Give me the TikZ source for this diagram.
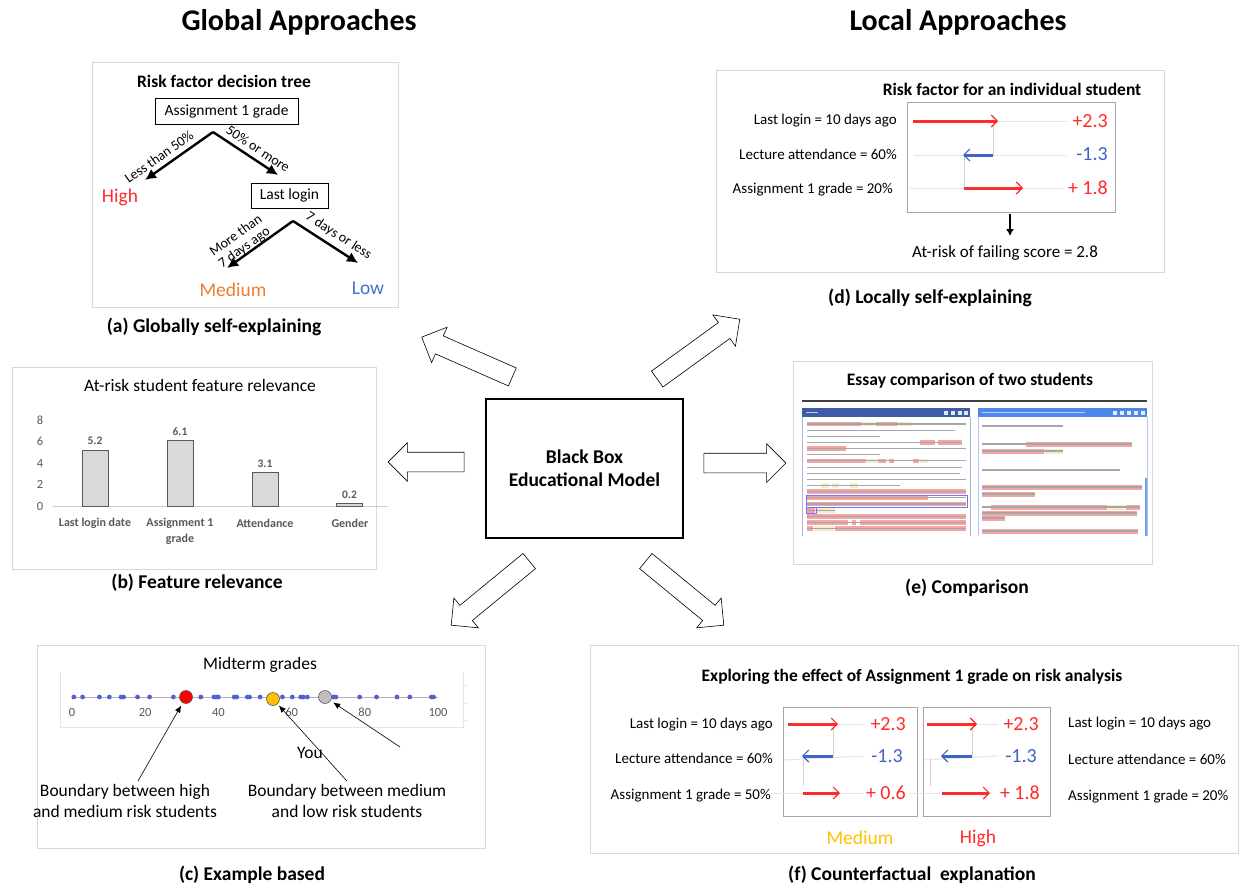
\documentclass[tikz,border=0pt]{standalone}
\usepackage{fontspec}
\setmainfont{Carlito}
\usepackage{tikz}
\usetikzlibrary{shapes,arrows,arrows.meta,positioning,calc}

\definecolor{paneline}{HTML}{D9D9D9}
\definecolor{xred}{HTML}{FF2A2A}
\definecolor{xblue}{HTML}{3F63C8}
\definecolor{lowblue}{HTML}{4472C4}
\definecolor{xorange}{HTML}{ED7D31}
\definecolor{xgold}{HTML}{FFC000}
\definecolor{dotblue}{HTML}{5360D0}
\definecolor{hlred}{HTML}{F4A6A6}
\definecolor{hlyel}{HTML}{F5ECC6}
\definecolor{hdrdark}{HTML}{3D5BA6}
\definecolor{hdrlight}{HTML}{4F86EC}
\definecolor{axisgray}{HTML}{595959}

\begin{document}
\begin{tikzpicture}[x=1pt, y=-1pt, >=latex,
  panel/.style={draw=paneline, line width=1pt},
  heading/.style={font=\fontsize{30}{36}\selectfont\bfseries},
  caption/.style={font=\fontsize{19.5}{23}\selectfont\bfseries},
  subtitle/.style={font=\fontsize{17.5}{21}\selectfont\bfseries},
  lbl/.style={font=\fontsize{15}{18}\selectfont, inner sep=0pt},
  val/.style={font=\fontsize{20}{24}\selectfont, inner sep=0pt},
  risk/.style={font=\fontsize{19.5}{23}\selectfont},
  treebox/.style={draw, line width=0.8pt, font=\fontsize{15.5}{18}\selectfont, inner sep=0pt},
  treearrow/.style={-{Latex[length=11pt,width=11pt]}, line width=2.4pt},
  branch/.style={font=\fontsize{14}{14.5}\selectfont, sloped, inner sep=1pt, align=center},
  bigarrow/.style={single arrow, draw, fill=white, line width=0.6pt, inner xsep=0pt,
    inner ysep=9.5pt, single arrow head extend=9.5pt},
  bar/.style={draw=axisgray, fill=gray!30, line width=0.8pt},
  pointer/.style={-{Latex[length=7pt,width=6pt]}, line width=0.6pt},
  frame/.style={draw=gray!70, line width=0.9pt},
  track/.style={draw=gray!20, line width=1pt},
  link/.style={draw=gray!35, line width=0.8pt},
  upbar/.style={-{Straight Barb[length=6pt,width=12pt,line width=1.2pt]}, xred, line width=3pt},
  downbar/.style={-{Straight Barb[length=6pt,width=12pt,line width=1.2pt]}, xblue, line width=3pt},
  txt/.style={draw=gray!70, line width=1.1pt},
  hl/.style={fill=hlred},
  hly/.style={fill=hlyel}]

\useasboundingbox (0,0) rectangle (1246,887);

\node[heading] (global) at (299,22) {Global Approaches};
\node[heading] (local) at (958,22) {Local Approaches};

\node[draw, line width=1.6pt, minimum width=197, minimum height=139, align=center,
  font=\fontsize{19.5}{23}\selectfont\bfseries] (model) at (584.5,468.5) {Black Box\\Educational Model};
\node[bigarrow, minimum height=99, rotate=156.3] (toA) at (471.5,359) {};
\node[bigarrow, minimum height=76, rotate=180] (toB) at (431,462) {};
\node[bigarrow, minimum height=101, rotate=219.4] (toC) at (494,590) {};
\node[bigarrow, minimum height=102, rotate=35.9] (toD) at (694.5,352) {};
\node[bigarrow, minimum height=82] (toE) at (740,463) {};
\node[bigarrow, minimum height=101, rotate=-39.4] (toF) at (681,590) {};

\draw[panel] (92,62) rectangle (398,307);
\node[subtitle] (treetitle) at (224,81) {Risk factor decision tree};
\node[treebox, minimum width=143, minimum height=26] (q1) at (226.5,111) {Assignment 1 grade};
\node[treebox, minimum width=77, minimum height=25] (q2) at (289.5,195.5) {Last login};
\node[risk, text=xred] (high) at (120,197) {High};
\node[risk, text=xorange] (medium) at (233,290) {Medium};
\node[risk, text=lowblue] (low) at (368,288) {Low};
\coordinate (fork1) at (213,132);
\coordinate (fork2) at (293,221);
\coordinate (tipH) at (145,180);
\coordinate (tipQ) at (278,175);
\coordinate (tipM) at (227,268);
\coordinate (tipL) at (358,263);
\draw[treearrow] (fork1) -- (tipH) node[branch, pos=0.7, above=4pt] {Less than 50\%};
\draw[treearrow] (fork1) -- (tipQ) node[branch, pos=0.6, above=4pt] {50\% or more};
\draw[treearrow] (fork2) -- (tipM) node[branch, pos=0.68, above=-2pt] {More than\\7 days ago};
\draw[treearrow] (fork2) -- (tipL) node[branch, pos=0.6, above=4pt] {7 days or less};
\node[caption] (capA) at (214,327) {(a) Globally self-explaining};

\draw[panel] (12,367) rectangle (376,569);
\node[font=\fontsize{17.5}{21}\selectfont] (bartitle) at (200,385) {At-risk student feature relevance};
\draw[gray!40, line width=0.8pt] (53,506) -- (388,506);
\foreach \v in {0,2,4,6,8}
  \node[font=\fontsize{12.5}{14}\selectfont, text=axisgray] (tick\v) at (40,{506-10.75*\v}) {\v};
\foreach \x/\v [count=\k] in {95/5.2,180/6.1,265/3.1,349.5/0.2} {
  \draw[bar] ({\x-13},506) rectangle ({\x+13},{506-10.75*\v});
  \node[font=\fontsize{11.5}{13}\selectfont\bfseries, text=axisgray] (barval\k) at (\x,{497-10.75*\v}) {\v};
}
\node[font=\fontsize{12}{14}\selectfont\bfseries, text=axisgray] (cat1) at (95,523) {Last login date};
\node[font=\fontsize{12}{15.5}\selectfont\bfseries, text=axisgray, align=center, anchor=north] (cat2) at (180,515) {Assignment 1\\grade};
\node[font=\fontsize{12}{14}\selectfont\bfseries, text=axisgray] (cat3) at (265,523) {Attendance};
\node[font=\fontsize{12}{14}\selectfont\bfseries, text=axisgray] (cat4) at (350,523) {Gender};
\node[caption] (capB) at (197,583) {(b) Feature relevance};

\draw[panel] (37,645) rectangle (485,848);
\node[font=\fontsize{17.5}{20}\selectfont] (gradetitle) at (260,665) {Midterm grades};
\draw[gray!20, line width=0.8pt] (60,672) -- (60,727) -- (463,727) -- (463,672);
\foreach \y in {685,703,720} \draw[gray!20, line width=0.8pt] (463,\y) -- (467,\y);
\draw[gray!60, line width=1pt] (72,697) -- (438,697);
\foreach \v in {0,20,40,60,80,100}
  \node[font=\fontsize{12.5}{14}\selectfont, text=axisgray] (g\v) at ({72+3.66*\v},712) {\v};
\foreach \v in {0.5,2.9,7.5,10.2,13.4,14.1,17.9,21.2,27.7,35.2,38.8,39.4,40,44.3,45,47.9,48.5,51.4,
  57.5,60.2,62.5,63.2,64.3,71.4,72.1,78.6,83.2,88.8,92.3,98.2,98.8}
  \fill[dotblue] ({72+3.66*\v},697) circle (2.4);
\node[circle, draw=gray!70!black, fill=red, minimum size=13, inner sep=0pt, line width=0.6pt] (bnd1) at (186,697) {};
\node[circle, draw=gray!70!black, fill=xgold, minimum size=13, inner sep=0pt, line width=0.6pt] (you) at (273,699) {};
\node[circle, draw=gray!70!black, fill=gray!50, minimum size=13, inner sep=0pt, line width=0.6pt] (bnd2) at (325,697) {};
\node[font=\fontsize{17.5}{20.5}\selectfont, align=center] (hmtext) at (125,801) {Boundary between high\\and medium risk students};
\node[font=\fontsize{17.5}{20.5}\selectfont, align=center] (mltext) at (347,801) {Boundary between medium\\and low risk students};
\node[font=\fontsize{17.5}{20}\selectfont] (youtext) at (310,753) {You};
\coordinate (grayfrom) at (400,747);
\draw[pointer, shorten >=3pt] ([xshift=13pt]hmtext.north) -- (bnd1);
\draw[pointer, shorten >=2pt] (mltext.north) -- (you);
\draw[pointer, shorten >=3pt] (grayfrom) -- (bnd2);
\node[caption] (capC) at (252,875) {(c) Example based};

\draw[panel] (716,70) rectangle (1164,272);
\node[subtitle] (indivtitle) at (1012,89) {Risk factor for an individual student};
\draw[frame] (907,102) rectangle (1115,212);
\node[lbl, anchor=east] (dl1) at (897,121) {Last login = 10 days ago};
\node[lbl, anchor=east] (dl2) at (897,154) {Lecture attendance = 60\%};
\node[lbl, anchor=east] (dl3) at (893,190) {Assignment 1 grade = 20\%};
\draw[track] (913,121) -- (1067,121);
\draw[track] (914,155) -- (1067,155);
\draw[track] (910,188) -- (1063,188);
\draw[link] (993,121) -- (993,155);
\draw[link] (964,155) -- (964,188);
\draw[upbar] (913,121) -- (998,121);
\draw[downbar] (993,155) -- (963,155);
\draw[upbar] (964,188) -- (1023,188);
\node[val, anchor=east, text=xred] (dv1) at (1108,121) {+2.3};
\node[val, anchor=east, text=xblue] (dv2) at (1108,154) {-1.3};
\node[val, anchor=east, text=xred] (dv3) at (1108,188) {+ 1.8};
\node[font=\fontsize{17}{20}\selectfont] (score) at (1005,253) {At-risk of failing score = 2.8};
\coordinate (scoretip) at (1010,236);
\draw[-{Latex[length=7pt,width=8pt]}, line width=1.6pt] (1010,214) -- (scoretip);
\node[caption] (capD) at (930,298) {(d) Locally self-explaining};

\draw[panel] (793,361) rectangle (1152,564);
\node[subtitle] (essaytitle) at (970,381) {Essay comparison of two students};
\draw[line width=2.5pt, black!75] (802,401) -- (1147,401);
\fill[hdrdark] (802,408) rectangle (970,417);
\fill[hdrlight] (978,408) rectangle (1147,417);
\draw[hdrdark!45, line width=0.6pt] (802,417) -- (802,536) (970,417) -- (970,536);
\draw[hdrlight!45, line width=0.6pt] (978,417) -- (978,536) (1147,417) -- (1147,536);
\fill[hdrlight!80] (1144.5,478) rectangle (1147,536);
\draw[white!70!hdrdark, line width=0.8pt] (806,412.5) -- (818,412.5);
\draw[white!60!hdrlight, line width=0.8pt] (982,412.5) -- (1085,412.5);
\foreach \x in {944,951,958,964} \fill[white!85!hdrdark] (\x,410.5) rectangle ++(3.5,4);
\foreach \x in {1113,1120,1127,1134,1141} \fill[white!85!hdrlight] (\x,410.5) rectangle ++(3.5,4);
\foreach \i/\a/\b in {0/807/862,0/876/898,3/920/935,3/938/962,4/807/846,6/807/866,6/878/886,6/889/894,
  6/913/919,11/807/966,12/807/928,13/807/966,14/807/815,15/807/966,16/807/848,16/852/856,16/860/966,
  17/807/813,17/835/966}
  \fill[hl] (\a,{424+6.15*\i-2.4}) rectangle (\b,{424+6.15*\i+2.4});
\foreach \i/\a/\b in {0/864/874,0/900/912,6/867/877,6/920/928,10/821/829,10/832/839,10/850/858,
  14/816/835,17/814/834}
  \fill[hly] (\a,{424+6.15*\i-2.4}) rectangle (\b,{424+6.15*\i+2.4});
\foreach \i/\e in {0/966,1/955,2/880,3/962,4/966,5/880,6/966,7/962,8/960,9/966,10/900,11/966,12/966,
  13/966,14/835,15/966,16/966,17/966}
  \draw[txt] (807,{424+6.15*\i}) -- (\e,{424+6.15*\i});
\draw[blue!55, line width=0.6pt] (806,{424+6.15*12-3}) rectangle (967,{424+6.15*13+3});
\draw[blue!55, line width=0.6pt] (806,{424+6.15*14-3}) rectangle (816,{424+6.15*14+3});
\foreach \y/\a/\b in {444/1026/1132,451/982/1044,487/982/1142,494/982/1035,507/991/1107,507/1126/1140,
  513/982/1137,518/982/1005,531/982/1138}
  \fill[hl] (\a,{\y-2.5}) rectangle (\b,{\y+2.5});
\foreach \y/\a/\b in {451/1045/1063,507/1108/1125}
  \fill[hly] (\a,{\y-2.5}) rectangle (\b,{\y+2.5});
\foreach \y/\e in {426/1063,444/1132,451/1063,470/1120,487/1142,494/1035,507/1140,513/1137,518/1005,531/1138}
  \draw[txt] (982,\y) -- (\e,\y);
\node[caption] (capE) at (967,588) {(e) Comparison};

\draw[panel] (590,645) rectangle (1238,853);
\node[subtitle] (cftitle) at (912,677) {Exploring the effect of Assignment 1 grade on risk analysis};
\draw[frame] (783,707) rectangle (917,816);
\draw[frame] (923,707) rectangle (1050,816);
\node[lbl, anchor=east] (fl1) at (773,725) {Last login = 10 days ago};
\node[lbl, anchor=east] (fl2) at (773,758) {Lecture attendance = 60\%};
\node[lbl, anchor=east] (fl3) at (771,796) {Assignment 1 grade = 50\%};
\node[lbl, anchor=west] (fr1) at (1068,724) {Last login = 10 days ago};
\node[lbl, anchor=west] (fr2) at (1068,759) {Lecture attendance = 60\%};
\node[lbl, anchor=west] (fr3) at (1068,797) {Assignment 1 grade = 20\%};
\draw[track] (788,724) -- (863,724);
\draw[track] (784,760) -- (863,756);
\draw[track] (770,793) -- (863,793);
\draw[track] (927,724) -- (998,724);
\draw[track] (924,760) -- (998,756);
\draw[track] (910,793) -- (990,793);
\draw[link] (833,728) -- (833,756);
\draw[link] (803,758) -- (803,786);
\draw[link] (972,728) -- (972,756);
\draw[link] (930,758) -- (930,786);
\draw[upbar] (788,724) -- (838,724);
\draw[downbar] (833,756) -- (802,756);
\draw[upbar] (803,793) -- (840,793);
\draw[upbar] (927,724) -- (977,724);
\draw[downbar] (972,756) -- (941,756);
\draw[upbar] (942,793) -- (990,793);
\node[val, anchor=east, text=xred] (fv1) at (906,724) {+2.3};
\node[val, anchor=east, text=xblue] (fv2) at (903,756) {-1.3};
\node[val, anchor=east, text=xred] (fv3) at (906,793) {+ 0.6};
\node[val, anchor=east, text=xred] (fw1) at (1039,724) {+2.3};
\node[val, anchor=east, text=xblue] (fw2) at (1037,756) {-1.3};
\node[val, anchor=east, text=xred] (fw3) at (1040,793) {+ 1.8};
\node[risk, text=xgold] (cfmed) at (860,838) {Medium};
\node[risk, text=xred] (cfhigh) at (978,838) {High};
\node[caption] (capF) at (912,875) {(f) Counterfactual\ \ explanation};
\end{tikzpicture}
\end{document}
